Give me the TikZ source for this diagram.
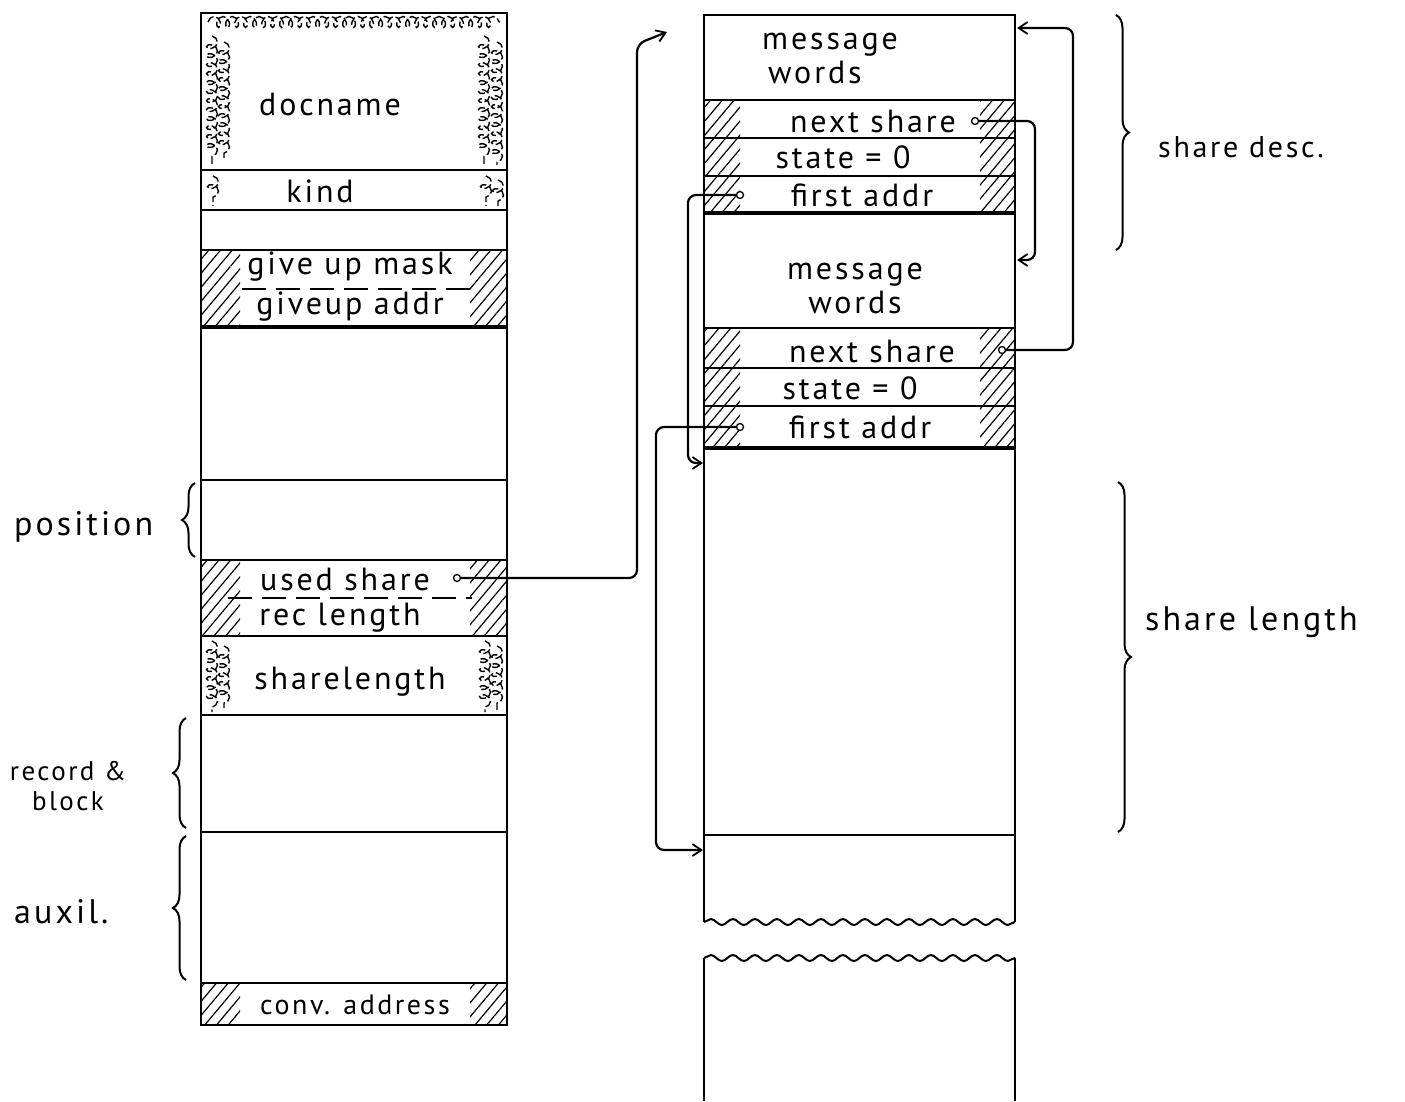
\documentclass[tikz,border=0pt]{standalone}
\usepackage{fontspec}
\setmainfont{PT Sans}
\newfontfamily\handfont[LetterSpace=9]{PT Sans}
\usetikzlibrary{arrows.meta,patterns.meta,decorations.pathmorphing,decorations.pathreplacing,calc}
\begin{document}
\begin{tikzpicture}[x=1pt,y=-1pt,
  box/.style={line width=2pt},
  thicksep/.style={line width=4pt},
  hatch/.style={pattern={Lines[angle=50,distance=9pt,line width=1.2pt]}},
  squig/.style={line width=1.4pt, dash pattern=on 8pt off 3pt, decorate, decoration={coil,aspect=0.7,segment length=9pt,amplitude=5.5pt}},
  lbl/.style={font=\handfont\fontsize{32}{34}\selectfont, inner sep=0pt, align=center},
  side/.style={font=\handfont\fontsize{34}{36}\selectfont, inner sep=0pt, align=center},
  dashsep/.style={line width=1.5pt, dash pattern=on 24pt off 10pt},
  dot/.style={circle, draw, line width=1.3pt, minimum size=7pt, inner sep=0pt, fill=white},
  conn/.style={line width=2.2pt, rounded corners=8pt},
  tip/.style={-{Straight Barb[length=9pt,width=12pt,line width=1.8pt]}},
  brc/.style={line width=2pt, decorate, decoration={brace, amplitude=13pt}},
  wavy/.style={line width=2pt, decorate, decoration={snake, segment length=22pt, amplitude=3pt}},
]
\useasboundingbox (0,0) rectangle (1405,1101);
\fill[white] (0,0) rectangle (1405,1101);

% ---------- hatching ----------
\foreach \ya/\yb in {250/327, 560/636, 983/1025} {
  \fill[hatch] (202,\ya) rectangle (240,\yb);
  \fill[hatch] (470,\ya) rectangle (506,\yb);
}
\foreach \ya/\yb in {100/213, 328/447} {
  \fill[hatch] (705,\ya) rectangle (740,\yb);
  \fill[hatch] (980,\ya) rectangle (1014,\yb);
}

% ---------- squiggle texture ----------
\draw[squig] (208,22) -- (500,22);
\draw[squig] (212,36) -- (212,165);
\draw[squig] (224,42) -- (224,160);
\draw[squig] (484,36) -- (484,165);
\draw[squig] (497,42) -- (497,165);
\draw[squig] (213,176) -- (213,206);
\draw[squig] (486,176) -- (486,206);
\draw[squig] (498,180) -- (498,206);
\draw[squig] (212,641) -- (212,712);
\draw[squig] (224,646) -- (224,708);
\draw[squig] (485,641) -- (485,712);
\draw[squig] (497,646) -- (497,712);

% ---------- left column ----------
\draw[box] (201,13) rectangle (507,1025);
\foreach \y in {170,210,250,480,560,636,715,832,983}
  \draw[box] (201,\y) -- (507,\y);
\draw[thicksep] (201,327) -- (507,327);
\draw[dashsep] (242,289) -- (472,289);
\draw[dashsep] (228,598) -- (472,598);

% ---------- right column ----------
\draw[box] (704,922) -- (704,15) -- (1015,15) -- (1015,922);
\foreach \y in {100,138,176,328,368,406,835}
  \draw[box] (704,\y) -- (1015,\y);
\draw[thicksep] (704,213) -- (1015,213);
\draw[thicksep] (704,448) -- (1015,448);
\draw[wavy] (704,922) -- (1015,922);
\draw[box] (704,1101) -- (704,958);
\draw[box] (1015,1101) -- (1015,958);
\draw[wavy] (704,958) -- (1015,958);

% ---------- texts ----------
\node[lbl] (docname) at (330,104) {docname};
\node[lbl] (kind) at (320,191) {kind};
\node[lbl] (gum) at (350,267) {give up mask};
\node[lbl] (gua) at (350,307) {giveup addr};
\node[lbl] (used) at (345,579) {used share};
\node[lbl] (rec) at (340,618) {rec length};
\node[lbl] (shl) at (350,682) {sharelength};
\node[lbl, font=\handfont\fontsize{28}{30}\selectfont] (conv) at (355,1005) {conv. address};

\node[lbl, align=left, anchor=west] (mw1) at (762,58) {message\\\hspace*{6pt}words};
\node[lbl] (ns1) at (873,121) {next share};
\node[lbl] (st1) at (843,157) {state = 0};
\node[lbl] (fa1) at (862,195) {first addr};
\node[lbl] (mw2) at (855,288) {message\\words};
\node[lbl] (ns2) at (872,351) {next share};
\node[lbl] (st2) at (850,388) {state = 0};
\node[lbl] (fa2) at (860,427) {first addr};

\node[side, anchor=west] (pos) at (14,527) {position};
\node[side, font=\handfont\fontsize{27}{30}\selectfont] (rb) at (68,786) {record \&\\block};
\node[side, anchor=west] (aux) at (14,912) {auxil.};
\node[side, anchor=west, font=\handfont\fontsize{30}{32}\selectfont] (sd) at (1158,147) {share desc.};
\node[side, anchor=west] (sl) at (1145,622) {share length};

% ---------- braces ----------
\draw[brc] (195,557) -- (195,483);
\draw[brc] (186,828) -- (186,718);
\draw[brc] (186,980) -- (186,836);
\draw[brc] (1116,15) -- (1116,250);
\draw[brc] (1118,482) -- (1118,832);

% ---------- pointers ----------
\node[dot] (dused) at (457,578) {};
\node[dot] (dns1) at (975,121) {};
\node[dot] (dns2) at (1002,350) {};
\node[dot] (dfa1) at (740,195) {};
\node[dot] (dfa2) at (740,427) {};

\coordinate (tmw1) at (667,32);
\coordinate (tmw2) at (1017,260);
\coordinate (ttop) at (1017,28);
\coordinate (tbig) at (703,463);
\coordinate (tlow) at (703,850);

\draw[conn,tip] (dused.east) -- (637,578) -- (637,44) -- (tmw1);
\draw[conn,tip] (dns1.east) -| (1035,260) -- (tmw2);
\draw[conn,tip] (dns2.east) -| (1073,28) -- (ttop);
\draw[conn,tip] (dfa1.west) -| (688,463) -- (tbig);
\draw[conn,tip] (dfa2.west) -| (656,850) -- (tlow);
\end{tikzpicture}
\end{document}
